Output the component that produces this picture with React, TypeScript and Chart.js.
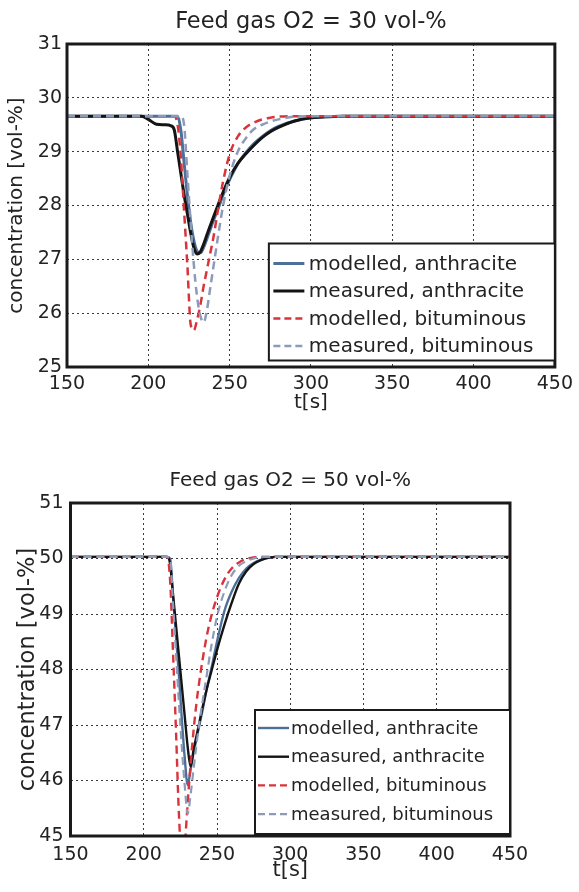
import React, { useEffect, useRef } from "react";
import { Chart, registerables } from "chart.js";

Chart.register(...registerables);

// ---------- data ----------
const timeS = [150, 196, 200, 205, 210, 214, 216, 218, 220, 222, 224, 226, 228, 230, 232, 234, 236, 238, 240, 243, 246, 250, 255, 260, 265, 270, 275, 280, 290, 300, 320, 350, 400, 450];

const seriesNames = ["modelled, anthracite", "measured, anthracite", "modelled, bituminous", "measured, bituminous"];

const xTicks = [150, 200, 250, 300, 350, 400, 450];

// Feed gas O2 = 30 vol-%
const modelledAnthracite30 = [29.66, 29.66, 29.66, 29.66, 29.66, 29.66, 29.66, 29.66, 29.4, 28.8, 28.2, 27.7, 27.35, 27.15, 27.12, 27.22, 27.38, 27.55, 27.72, 27.95, 28.2, 28.48, 28.77, 28.98, 29.15, 29.28, 29.39, 29.47, 29.57, 29.63, 29.66, 29.66, 29.66, 29.66];
const measuredAnthracite30 = [29.66, 29.66, 29.6, 29.51, 29.5, 29.48, 29.4, 29.0, 28.6, 28.2, 27.85, 27.5, 27.22, 27.1, 27.14, 27.28, 27.45, 27.62, 27.78, 28.02, 28.25, 28.52, 28.78, 28.96, 29.12, 29.26, 29.37, 29.45, 29.57, 29.63, 29.66, 29.66, 29.66, 29.66];
const modelledBituminous30 = [29.66, 29.66, 29.66, 29.66, 29.66, 29.66, 29.66, 29.5, 28.9, 27.9, 26.9, 25.8, 25.68, 25.88, 26.15, 26.5, 26.8, 27.1, 27.4, 27.95, 28.45, 28.95, 29.28, 29.45, 29.54, 29.6, 29.63, 29.65, 29.66, 29.66, 29.66, 29.66, 29.66, 29.66];
const measuredBituminous30 = [29.66, 29.66, 29.66, 29.66, 29.66, 29.66, 29.66, 29.66, 29.66, 29.5, 28.6, 27.7, 26.9, 26.3, 25.95, 25.83, 26.05, 26.45, 26.85, 27.45, 28.0, 28.55, 29.0, 29.25, 29.42, 29.5, 29.56, 29.6, 29.65, 29.66, 29.66, 29.66, 29.66, 29.66];
const yTicks30 = [25, 26, 27, 28, 29, 30, 31];

// Feed gas O2 = 50 vol-%
const modelledAnthracite50 = [50.03, 50.03, 50.03, 50.03, 50.03, 50.03, 50.03, 50.0, 49.3, 48.6, 47.9, 47.1, 46.4, 45.92, 46.2, 46.5, 46.75, 47.0, 47.25, 47.65, 48.0, 48.5, 49.05, 49.4, 49.65, 49.82, 49.92, 49.98, 50.03, 50.03, 50.03, 50.03, 50.03, 50.03];
const measuredAnthracite50 = [50.03, 50.03, 50.03, 50.03, 50.03, 50.03, 50.03, 49.9, 49.35, 48.8, 48.25, 47.7, 47.15, 46.6, 46.25, 46.55, 46.8, 47.05, 47.3, 47.65, 47.95, 48.35, 48.8, 49.2, 49.55, 49.77, 49.9, 49.97, 50.03, 50.03, 50.03, 50.03, 50.03, 50.03];
const modelledBituminous50 = [50.03, 50.03, 50.03, 50.03, 50.03, 50.03, 50.03, 49.6, 48.3, 46.9, 45.4, 44.6, 44.85, 45.6, 46.3, 46.9, 47.4, 47.8, 48.15, 48.6, 48.95, 49.3, 49.62, 49.82, 49.93, 49.99, 50.02, 50.03, 50.03, 50.03, 50.03, 50.03, 50.03, 50.03];
const measuredBituminous50 = [50.03, 50.03, 50.03, 50.03, 50.03, 50.03, 50.03, 50.0, 49.2, 48.3, 47.4, 46.6, 45.9, 45.4, 45.75, 46.2, 46.65, 47.05, 47.4, 47.9, 48.4, 48.95, 49.4, 49.7, 49.87, 49.95, 50.0, 50.03, 50.03, 50.03, 50.03, 50.03, 50.03, 50.03];
const yTicks50 = [45, 46, 47, 48, 49, 50, 51];

// ---------- styles ----------
const FONT = "'DejaVu Sans', 'Liberation Sans', Arial, sans-serif";
const TEXT = "#232323";
const COLORS = ["#4e6f98", "#141414", "#d8343c", "#8d9bb8"];
const DASHES: number[][] = [[], [], [8, 5], [8, 5]];

const W = 579;
const H = 446;

type Geo = {
  left: number; right: number; top: number; bottom: number;
  title: string; titleY: number; titleFont: number;
  tickFont: number; xTickPad: number; yTickPad: number;
  labelFont: number; yLabelFont: number; xTitleCenter: number; yTitleCenter: number;
  lineWidths: number[];
  legend: { width: number; height: number; bottomGap: number; firstRow: number; rowGap: number; sampleStart: number; sampleLen: number; textStart: number; font: number };
};

function Panel({ top, geo, series, yTicks }: { top: number; geo: Geo; series: number[][]; yTicks: number[] }) {
  const ref = useRef<HTMLCanvasElement | null>(null);

  useEffect(() => {
    const canvas = ref.current;
    if (!canvas) return;
    const order = [4, 3, 2, 1];
    const datasets = series.map((vals, i) => ({
      label: seriesNames[i],
      data: timeS.map((t, k) => ({ x: t, y: vals[k] })),
      borderColor: COLORS[i],
      backgroundColor: COLORS[i],
      borderWidth: geo.lineWidths[i],
      borderDash: DASHES[i],
      pointRadius: 0,
      fill: false,
      cubicInterpolationMode: "monotone" as const,
      order: order[i],
    }));

    const framePlugin = {
      id: "frameLegendTitle",
      beforeDraw(chart: any) {
        const c = chart.ctx;
        c.save();
        c.fillStyle = "#fff";
        c.fillRect(0, 0, chart.width, chart.height);
        c.restore();
      },
      afterDatasetsDraw(chart: any) {
        const c = chart.ctx as CanvasRenderingContext2D;
        const a = chart.chartArea;
        c.save();
        // axes frame
        c.lineWidth = 3;
        c.strokeStyle = "#1a1a1a";
        c.setLineDash([]);
        c.strokeRect(a.left, a.top, a.right - a.left, a.bottom - a.top);
        // title
        c.fillStyle = TEXT;
        c.font = `${geo.titleFont}px ${FONT}`;
        c.textAlign = "center";
        c.textBaseline = "middle";
        c.fillText(geo.title, (a.left + a.right) / 2, geo.titleY);
        // legend
        const L = geo.legend;
        const bx1 = a.right;
        const by1 = a.bottom - L.bottomGap;
        const bx0 = bx1 - L.width;
        const by0 = by1 - L.height;
        c.fillStyle = "#fff";
        c.fillRect(bx0, by0, L.width, L.height);
        c.lineWidth = 2;
        c.strokeStyle = "#1a1a1a";
        c.strokeRect(bx0, by0, L.width, L.height);
        c.font = `${L.font}px ${FONT}`;
        c.textAlign = "left";
        c.textBaseline = "middle";
        seriesNames.forEach((name, i) => {
          const y = by0 + L.firstRow + i * L.rowGap;
          c.beginPath();
          c.lineWidth = geo.lineWidths[i];
          c.strokeStyle = COLORS[i];
          c.setLineDash(DASHES[i].length ? [7, 4] : []);
          c.moveTo(bx0 + L.sampleStart, y);
          c.lineTo(bx0 + L.sampleStart + L.sampleLen, y);
          c.stroke();
          c.setLineDash([]);
          c.fillStyle = TEXT;
          c.fillText(name, bx0 + L.textStart, y + 1);
        });
        c.restore();
      },
    };

    const gridCommon = {
      display: true,
      drawOnChartArea: true,
      drawTicks: false,
      color: "#3a3a3a",
      lineWidth: 1,
    };

    const chart = new Chart(canvas, {
      type: "line",
      data: { datasets },
      options: {
        animation: false,
        responsive: false,
        maintainAspectRatio: false,
        devicePixelRatio: 1,
        events: [],
        layout: { padding: { left: 0, top: geo.top, right: W - geo.right, bottom: 0 } },
        plugins: {
          legend: { display: false },
          title: { display: false },
          tooltip: { enabled: false },
        },
        scales: {
          x: {
            type: "linear",
            min: xTicks[0],
            max: xTicks[xTicks.length - 1],
            afterBuildTicks: (s: any) => { s.ticks = xTicks.map((v) => ({ value: v })); },
            afterFit: (s: any) => { s.height = H - geo.bottom; },
            ticks: { autoSkip: false, maxRotation: 0, padding: geo.xTickPad, color: TEXT, font: { family: FONT, size: geo.tickFont } },
            grid: gridCommon,
            border: { display: false, dash: [2, 3] },
            title: { display: true, text: "t[s]", color: TEXT, font: { family: FONT, size: geo.labelFont }, padding: { top: 0, bottom: (H - geo.xTitleCenter) - geo.labelFont * 0.6 } },
          },
          y: {
            type: "linear",
            min: yTicks[0],
            max: yTicks[yTicks.length - 1],
            afterBuildTicks: (s: any) => { s.ticks = yTicks.map((v) => ({ value: v })); },
            afterFit: (s: any) => { s.width = geo.left; },
            ticks: { autoSkip: false, padding: geo.yTickPad, color: TEXT, font: { family: FONT, size: geo.tickFont } },
            grid: gridCommon,
            border: { display: false, dash: [2, 3] },
            title: { display: true, text: "concentration [vol-%]", color: TEXT, font: { family: FONT, size: geo.yLabelFont }, padding: { top: geo.yTitleCenter - geo.yLabelFont * 0.6, bottom: 0 } },
          },
        },
      },
      plugins: [framePlugin],
    } as any);

    return () => chart.destroy();
  }, []);

  return (
    <canvas
      ref={ref}
      width={W}
      height={H}
      style={{ position: "absolute", left: 0, top, width: W, height: H, display: "block" }}
    />
  );
}

const geoTop: Geo = {
  left: 67, right: 555.5, top: 44, bottom: 367,
  title: "Feed gas O2 = 30 vol-%", titleY: 22, titleFont: 22.5,
  tickFont: 19, xTickPad: 6, yTickPad: 5,
  labelFont: 20, yLabelFont: 20, xTitleCenter: 403, yTitleCenter: 17,
  lineWidths: [3, 3, 2.5, 2.5],
  legend: { width: 286, height: 117, bottomGap: 6.5, firstRow: 20, rowGap: 27.5, sampleStart: 4.5, sampleLen: 31, textStart: 40, font: 20 },
};

const geoBottom: Geo = {
  left: 70.5, right: 510, top: 57, bottom: 390,
  title: "Feed gas O2 = 50 vol-%", titleY: 34.5, titleFont: 20,
  tickFont: 19, xTickPad: 8, yTickPad: 7,
  labelFont: 21, yLabelFont: 22.5, xTitleCenter: 425, yTitleCenter: 28,
  lineWidths: [2.4, 2.4, 2.4, 2.2],
  legend: { width: 255, height: 124, bottomGap: 2, firstRow: 18, rowGap: 28.7, sampleStart: 3, sampleLen: 31, textStart: 36, font: 18 },
};

export default function App() {
  return (
    <div style={{ position: "absolute", left: 0, top: 0, width: W, height: 892, background: "#fff", overflow: "hidden" }}>
      <Panel
        top={0}
        geo={geoTop}
        yTicks={yTicks30}
        series={[modelledAnthracite30, measuredAnthracite30, modelledBituminous30, measuredBituminous30]}
      />
      <Panel
        top={446}
        geo={geoBottom}
        yTicks={yTicks50}
        series={[modelledAnthracite50, measuredAnthracite50, modelledBituminous50, measuredBituminous50]}
      />
    </div>
  );
}
